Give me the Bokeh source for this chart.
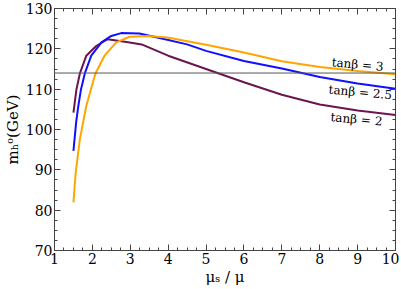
from bokeh.plotting import figure
from bokeh.models import LinearAxis, Span, Range1d, FixedTicker
from bokeh.embed import file_html
from bokeh.resources import INLINE
from bokeh.core.properties import value

# ---- data ----
tb2_x = [1.5, 1.58, 1.67, 1.84, 2.1, 2.4, 2.9, 3.3, 4.0, 5.0, 6.0, 7.0, 8.0, 9.0, 10.0]
tb2_y = [104.2, 110.0, 113.9, 118.3, 120.7, 122.4, 121.7, 121.1, 118.3, 115.0, 111.7, 108.6, 106.2, 104.7, 103.6]

tb25_x = [1.5, 1.57, 1.63, 1.70, 1.80, 1.97, 2.24, 2.5, 2.76, 3.24, 3.8, 4.5, 5.0, 6.0, 7.0, 8.0, 9.0, 10.0]
tb25_y = [94.7, 101.7, 105.9, 110.0, 113.9, 118.3, 121.6, 123.2, 123.9, 123.8, 122.6, 121.1, 119.5, 117.0, 115.1, 113.0, 111.4, 110.1]

tb3_x = [1.5, 1.56, 1.67, 1.84, 2.08, 2.32, 2.63, 2.98, 3.45, 3.98, 5.0, 6.0, 7.0, 8.0, 9.0, 10.0]
tb3_y = [81.9, 89.3, 97.6, 105.9, 113.9, 118.3, 121.6, 123.0, 123.2, 122.8, 121.0, 119.1, 116.9, 115.5, 114.5, 113.7]

ref_level = 114

series_labels = ["tanβ = 3", "tanβ = 2.5", "tanβ = 2"]
label_x = [9.0, 9.07, 8.97]
label_y = [116.1, 109.2, 102.5]

x_ticks = [1, 2, 3, 4, 5, 6, 7, 8, 9, 10]
y_ticks = [70, 80, 90, 100, 110, 120, 130]

FONT = "DejaVu Serif"
AX = "#444444"

p = figure(frame_width=341, frame_height=242, output_backend="svg",
           toolbar_location=None, x_range=Range1d(1, 10), y_range=Range1d(70, 130),
           min_border_top=8, min_border_right=4, min_border_left=0, min_border_bottom=0)
p.grid.visible = False
p.outline_line_color = AX
p.background_fill_color = "white"
p.border_fill_color = "white"

minor_x = [1 + 0.25 * i for i in range(37)]
minor_y = [70 + 2.5 * i for i in range(25)]

def style(ax, ticks, minors, labels=True):
    ax.ticker = FixedTicker(ticks=ticks, minor_ticks=minors)
    ax.axis_line_color = AX
    ax.major_tick_line_color = AX
    ax.minor_tick_line_color = AX
    ax.major_tick_in = 6
    ax.major_tick_out = 0
    ax.minor_tick_in = 3
    ax.minor_tick_out = 0
    if labels:
        ax.major_label_text_font = FONT
        ax.major_label_text_font_size = "14px"
        ax.major_label_text_color = "black"
        ax.major_label_standoff = 2
        ax.axis_label_text_font = FONT
        ax.axis_label_text_font_size = "15px"
        ax.axis_label_text_font_style = "normal"
        ax.axis_label_text_color = "black"
        ax.axis_label_standoff = 1
    else:
        ax.major_label_overrides = {t: "" for t in ticks}
        ax.major_label_standoff = 0

style(p.xaxis[0], x_ticks, minor_x)
style(p.yaxis[0], y_ticks, minor_y)
p.xaxis[0].axis_label = "μₛ / μ"
p.yaxis[0].axis_label = "mₕᵒ(GeV)"

top = LinearAxis()
style(top, x_ticks, minor_x, labels=False)
p.add_layout(top, "above")
right = LinearAxis()
style(right, y_ticks, minor_y, labels=False)
p.add_layout(right, "right")

p.add_layout(Span(location=ref_level, dimension="width", line_color="#555555", line_width=1))

p.line(tb2_x, tb2_y, line_color="#6B1550", line_width=2)
p.line(tb25_x, tb25_y, line_color="#1010FF", line_width=2)
p.line(tb3_x, tb3_y, line_color="#FFA500", line_width=2)

p.text(x=label_x, y=label_y, text=series_labels, angle=-0.09,
       text_font=value(FONT), text_font_size="12px", text_color="black",
       text_align="center", text_baseline="middle")

open("out.html", "w").write(file_html(p, INLINE))
